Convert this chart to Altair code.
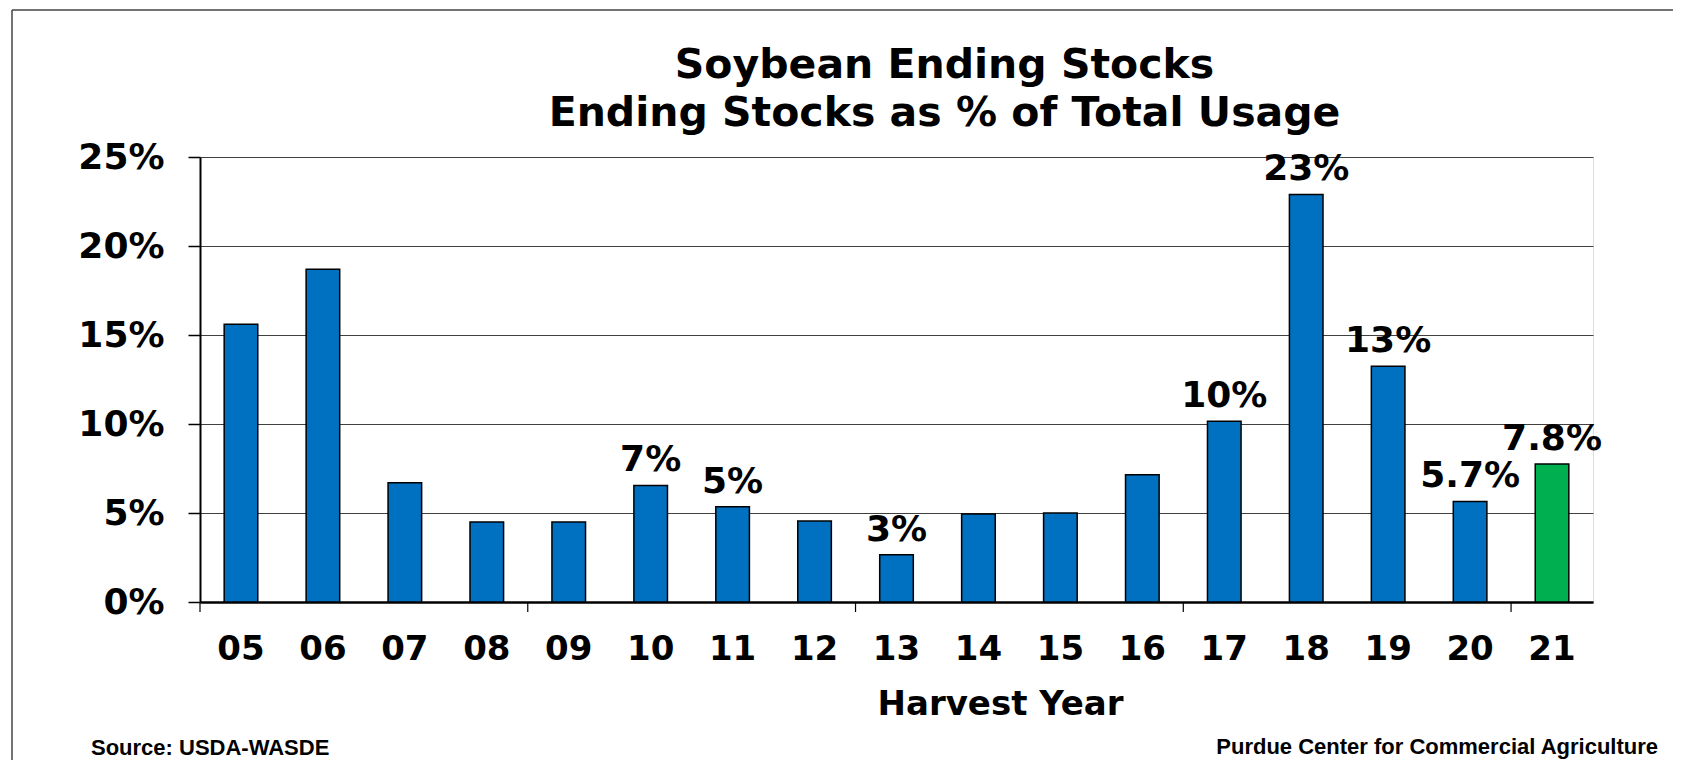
import altair as alt
import pandas as pd

years = ["05", "06", "07", "08", "09", "10", "11", "12", "13", "14", "15", "16", "17", "18", "19", "20", "21"]
stocks_pct = [15.6, 18.7, 6.7, 4.5, 4.5, 6.55, 5.35, 4.55, 2.65, 4.95, 5.0, 7.15, 10.15, 22.9, 13.25, 5.65, 7.75]
bar_labels = ["", "", "", "", "", "7%", "5%", "", "3%", "", "", "", "10%", "23%", "13%", "5.7%", "7.8%"]
boundary_years = ["05", "09", "13", "17", "21"]
y_ticks = [0, 0.05, 0.10, 0.15, 0.20, 0.25]
title_lines = ["Soybean Ending Stocks", "Ending Stocks as % of Total Usage"]
source_note = "Source: USDA-WASDE"
credit_note = "Purdue Center for Commercial Agriculture"

df = pd.DataFrame({
    "year": years,
    "share": [v / 100 for v in stocks_pct],
    "label": bar_labels,
})
bounds = pd.DataFrame({"year": boundary_years})
one = pd.DataFrame({"k": [0]})

W, H = 1393, 445
FONT = "DejaVu Sans"

xscale = alt.Scale(domain=years, paddingInner=0, paddingOuter=0)
yscale = alt.Scale(domain=[0, 0.25], nice=False)

x_axis = alt.Axis(
    title="Harvest Year", labelAngle=0, ticks=False, tickSize=0,
    labelFont=FONT, labelFontWeight="bold", labelFontSize=34, labelColor="black",
    labelPadding=30, domainColor="black", domainWidth=2.5,
    titleFont=FONT, titleFontWeight="bold", titleFontSize=34, titleColor="black",
    titleX=800, titleY=112, titleAlign="center", titleBaseline="alphabetic",
)
y_axis = alt.Axis(
    title=None, values=y_ticks, format=".0%",
    labelFont=FONT, labelFontWeight="bold", labelFontSize=36, labelColor="black",
    labelPadding=24, tickSize=12, tickColor="black", tickWidth=1.5,
    domainColor="black", domainWidth=2, gridColor="#404040", gridWidth=1,
)

bars = alt.Chart(df).mark_bar(width={"band": 0.41}, stroke="black", strokeWidth=1.5).encode(
    x=alt.X("year:N", scale=xscale, axis=x_axis, sort=years),
    y=alt.Y("share:Q", scale=yscale, axis=y_axis),
    color=alt.condition(alt.datum.year == "21", alt.value("#00B050"), alt.value("#0070C0")),
)

texts = alt.Chart(df).mark_text(
    font=FONT, fontWeight="bold", fontSize=36, color="black",
    baseline="alphabetic", align="center", dy=-14,
).encode(
    x=alt.X("year:N", scale=xscale, sort=years),
    y=alt.Y("share:Q", scale=yscale),
    text="label:N",
)

ticks = alt.Chart(bounds).mark_rule(color="black", strokeWidth=1.2).encode(
    x=alt.X("year:N", scale=xscale, bandPosition=0, sort=years),
    y=alt.value(H),
    y2=alt.value(H + 10),
)

src = alt.Chart(one).mark_text(
    font="Liberation Sans", fontWeight="bold", fontSize=22, color="black",
    align="left", baseline="alphabetic", text=source_note,
).encode(x=alt.value(-109), y=alt.value(598))

credit = alt.Chart(one).mark_text(
    font="Liberation Sans", fontWeight="bold", fontSize=22, color="black",
    align="right", baseline="alphabetic", text=credit_note,
).encode(x=alt.value(1458), y=alt.value(597))

frame_top = alt.Chart(one).mark_rule(color="#444444", strokeWidth=1.5).encode(
    x=alt.value(-188), x2=alt.value(1500), y=alt.value(-147)
)
frame_left = alt.Chart(one).mark_rule(color="#444444", strokeWidth=1.5).encode(
    x=alt.value(-188), y=alt.value(-147), y2=alt.value(620)
)

chart = alt.layer(frame_top, frame_left, bars, ticks, texts, src, credit).properties(
    width=W, height=H,
    title=alt.TitleParams(
        text=title_lines, font=FONT, fontWeight="bold", fontSize=41, color="black",
        lineHeight=48, anchor="middle", dx=48, offset=20, dy=146,
    ),
    autosize=alt.AutoSizeParams(type="none"),
    padding={"left": 192, "top": 149, "right": 80, "bottom": 158},
).configure_view(
    stroke="black", strokeWidth=2
).configure(background="white")

chart.save("out.html", embed_options={"renderer": "svg", "actions": False})
